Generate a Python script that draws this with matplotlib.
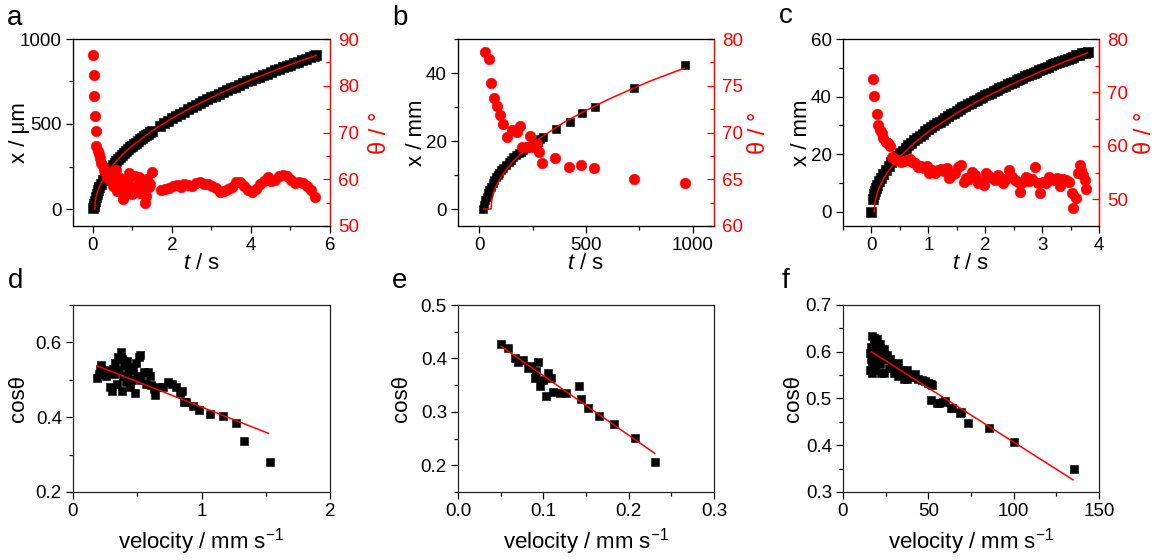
import matplotlib
matplotlib.use("Agg")
import matplotlib.pyplot as plt
from matplotlib.ticker import MultipleLocator, AutoMinorLocator, FormatStrFormatter

plt.rcParams['font.family'] = ['Liberation Sans', 'DejaVu Sans']
plt.rcParams['mathtext.fontset'] = 'custom'
plt.rcParams['mathtext.rm'] = 'Liberation Sans'
plt.rcParams['mathtext.it'] = 'Liberation Sans:italic'

RED = '#ff0000'

# ---------------- panel a: displacement (um) and contact angle vs time ----------------
a_t = [0.00, 0.02, 0.04, 0.06, 0.08, 0.10, 0.13, 0.16, 0.20,
       0.25, 0.30, 0.35, 0.40, 0.45, 0.50, 0.55, 0.60, 0.65, 0.70, 0.75, 0.80, 0.85,
       0.90, 0.95, 1.00, 1.05, 1.10, 1.15, 1.20, 1.25, 1.30, 1.35, 1.40, 1.45, 1.50,
       1.70, 1.80, 1.90, 2.00, 2.10, 2.20, 2.30, 2.40, 2.50, 2.60,
       2.70, 2.80, 2.90, 3.00, 3.10, 3.20, 3.30, 3.40, 3.50, 3.60,
       3.70, 3.80, 3.90, 4.00, 4.10, 4.20, 4.30, 4.40, 4.50, 4.60,
       4.70, 4.80, 4.90, 5.00, 5.10, 5.20, 5.30, 5.40, 5.50, 5.60, 5.65]
a_x = [5, 15, 30, 45, 70, 90, 110, 128, 148,
       171, 191, 209, 226, 242, 256, 270, 283, 296, 308, 320, 331, 342,
       352, 362, 372, 382, 391, 401, 410, 418, 427, 436, 444, 452, 460,
       491, 505, 520, 533, 547, 560, 573, 586, 598, 610,
       622, 633, 645, 656, 667, 678, 689, 699, 709, 720,
       730, 740, 750, 759, 769, 778, 788, 797, 806, 815,
       824, 833, 841, 850, 858, 867, 875, 884, 892, 900, 905]
a_fit_t = [0.05, 0.06, 0.08, 0.10, 0.15, 0.20, 0.30, 0.50, 0.75, 1.00, 1.50,
           2.00, 2.50, 3.00, 3.50, 4.00, 4.50, 5.00, 5.65]
a_fit_x = [0, 38, 66, 85, 121, 148, 191, 256, 320, 372, 460,
           533, 598, 656, 710, 759, 806, 850, 904]
a_th_t = [0.00, 0.02, 0.04, 0.06, 0.07, 0.09, 0.12, 0.15, 0.18, 0.22, 0.25, 0.28,
          0.32, 0.36, 0.40, 0.44, 0.48, 0.52, 0.55, 0.58, 0.62, 0.66, 0.70, 0.73,
          0.76, 0.80, 0.84, 0.88, 0.92, 0.96, 1.00, 1.04, 1.08, 1.12, 1.16, 1.20,
          1.24, 1.28, 1.31, 1.34, 1.38, 1.42, 1.46, 1.49,
          1.72, 1.82, 1.92, 2.02, 2.12, 2.22, 2.32, 2.42, 2.52, 2.62, 2.72, 2.82,
          2.92, 3.02, 3.12, 3.22, 3.32, 3.42, 3.52, 3.62, 3.72, 3.82, 3.92, 4.02,
          4.12, 4.22, 4.32, 4.42, 4.52, 4.62, 4.72, 4.82, 4.92, 5.02, 5.12, 5.22,
          5.32, 5.42, 5.52, 5.62]
a_th = [86.5, 82.2, 77.8, 73.5, 70.3, 67.2, 66.0, 65.4, 64.5, 63.5, 62.8, 62.0,
        61.5, 60.5, 61.3, 59.8, 60.8, 58.5, 59.2, 62.0, 57.5, 60.0, 60.3, 58.0,
        55.8, 59.0, 57.5, 60.2, 61.3, 58.3, 56.8, 57.7, 60.8, 58.5, 60.5, 57.0,
        59.5, 58.0, 55.0, 56.5, 60.0, 58.4, 59.0, 61.6,
        57.6, 57.9, 58.2, 58.6, 58.8, 58.4, 59.0, 58.8, 58.6, 59.2, 59.4, 59.0,
        59.0, 58.6, 58.2, 57.2, 57.4, 58.0, 58.3, 59.4, 59.5, 58.5, 57.8, 57.3,
        58.0, 59.0, 59.6, 60.5, 59.6, 59.8, 60.6, 61.0, 60.6, 59.8, 59.2, 59.4,
        59.3, 58.6, 57.6, 56.2]

# ---------------- panel b: displacement (mm) and contact angle vs time ----------------
b_t = [15, 22, 28, 34, 39, 47, 55, 62, 70, 78, 86, 94, 101, 113, 125, 137, 148,
       160, 172, 184, 195, 207, 219, 235, 250, 262, 274, 286, 297, 360, 423, 481,
       541, 723, 962]
b_x = [0, 1.2, 2.6, 3.6, 4.6, 5.6, 6.6, 7.6, 8.5, 9.3, 10.0, 10.7, 11.4, 12.2, 12.9,
       13.7, 14.4, 15.2, 15.9, 16.4, 16.9, 17.4, 17.9, 18.4, 18.8, 19.3, 19.8, 20.5,
       21.3, 23.4, 25.7, 28.1, 29.9, 35.5, 42.4]
b_fit_t = [20, 55, 57, 60, 70, 80, 100, 130, 160, 200, 250, 300, 400, 500, 600, 700,
           800, 960]
b_fit_x = [0, 0, 1.9, 3.1, 5.3, 6.9, 9.2, 11.9, 14.1, 16.6, 19.2, 21.5, 25.6, 29.0,
           32.1, 34.9, 37.6, 41.4]
b_th_t = [28, 44, 56, 71, 81, 97, 113, 128, 152, 175, 191, 202, 227, 238, 253, 269,
          281, 292, 355, 418, 478, 539, 723, 962]
b_th = [78.6, 77.9, 75.3, 73.7, 72.8, 71.9, 70.9, 69.5, 70.3, 70.1, 70.7, 68.5, 68.5,
        69.6, 68.5, 68.8, 67.9, 66.7, 67.3, 66.3, 66.5, 66.2, 65.0, 64.6]

# ---------------- panel c: displacement (mm) and contact angle vs time ----------------
c_t = [0.00, 0.02, 0.04, 0.06, 0.08, 0.10, 0.13, 0.16, 0.20, 0.25, 0.30, 0.35, 0.40,
       0.45, 0.50, 0.55, 0.60, 0.65, 0.70, 0.75, 0.80, 0.85, 0.90, 0.95, 1.00,
       1.05, 1.10, 1.15, 1.20, 1.25, 1.30, 1.35, 1.40, 1.45, 1.50, 1.55, 1.60,
       1.65, 1.70, 1.75, 1.80, 1.85, 1.90, 1.95, 2.00, 2.05, 2.10, 2.15, 2.20,
       2.25, 2.30, 2.35, 2.40, 2.45, 2.50, 2.55, 2.60, 2.65, 2.70, 2.75, 2.80,
       2.85, 2.90, 2.95, 3.00, 3.05, 3.10, 3.15, 3.20, 3.25, 3.30, 3.35, 3.40,
       3.45, 3.50, 3.55, 3.60, 3.65, 3.70, 3.75, 3.80]
c_x = [0, 4.5, 6.0, 7.2, 8.3, 9.3, 10.6, 11.8, 13.0, 14.4, 15.9, 17.1, 18.2,
       19.3, 20.3, 21.2, 22.2, 23.1, 24.0, 24.8, 25.6, 26.4, 27.1, 27.9, 28.6,
       29.3, 30.0, 30.7, 31.3, 32.0, 32.6, 33.2, 33.8, 34.4, 35.0, 35.6, 36.2,
       36.7, 37.3, 37.8, 38.4, 38.9, 39.4, 39.9, 40.4, 40.9, 41.4, 41.9, 42.4,
       42.9, 43.4, 43.8, 44.3, 44.8, 45.2, 45.7, 46.1, 46.6, 47.0, 47.4, 47.9,
       48.3, 48.7, 49.1, 49.5, 50.0, 50.4, 50.8, 51.2, 51.6, 52.0, 52.3, 52.7,
       53.1, 53.5, 53.9, 54.3, 54.6, 55.0, 55.3, 55.5]
c_fit_t = [0.05, 0.06, 0.08, 0.10, 0.15, 0.20, 0.30, 0.50, 0.75, 1.00, 1.50, 2.00,
           2.50, 3.00, 3.50, 3.80]
c_fit_x = [0, 2.9, 4.9, 6.4, 9.0, 11.0, 14.2, 19.1, 23.8, 27.8, 34.3, 39.8, 44.6,
           48.9, 52.9, 55.2]
c_th_t = [0.02, 0.05, 0.09, 0.12, 0.15, 0.18, 0.21, 0.25, 0.29, 0.33, 0.37, 0.42,
          0.47, 0.52, 0.57, 0.62, 0.67, 0.72, 0.77, 0.82, 0.87, 0.92, 0.97, 1.02,
          1.07, 1.12, 1.17, 1.22, 1.27, 1.32, 1.37, 1.42, 1.47, 1.52, 1.57, 1.62,
          1.67, 1.72, 1.77, 1.82, 1.87, 1.92, 1.97, 2.02, 2.07, 2.12, 2.17, 2.22,
          2.27, 2.32, 2.37, 2.42, 2.47, 2.52, 2.57, 2.62, 2.67, 2.72, 2.77, 2.82,
          2.87, 2.92, 2.97, 3.02, 3.07, 3.12, 3.17, 3.22, 3.27, 3.32, 3.37, 3.42,
          3.47, 3.52, 3.55, 3.59, 3.63, 3.66, 3.69, 3.72, 3.75, 3.78]
c_th = [72.6, 69.3, 66.0, 63.9, 63.0, 62.4, 61.4, 60.8, 60.5, 60.0, 58.0, 57.6,
        57.4, 57.0, 57.2, 57.4, 57.5, 57.0, 56.7, 56.1, 56.3, 55.8, 56.2, 54.9,
        55.4, 55.0, 55.5, 55.6, 55.3, 55.8, 53.9, 54.5, 55.0, 56.1, 56.4, 53.3,
        54.0, 53.8, 55.2, 54.6, 53.0, 53.5, 52.7, 54.9, 54.3, 53.9, 53.6, 54.5,
        53.8, 53.0, 53.8, 55.5, 54.2, 53.6, 53.3, 51.4, 53.3, 54.2, 53.5, 53.8,
        56.1, 53.0, 51.1, 53.3, 53.0, 54.2, 53.8, 53.6, 54.0, 52.4, 53.8, 53.6,
        53.2, 51.1, 48.3, 50.2, 54.9, 56.4, 55.5, 54.5, 53.6, 51.9]

# ---------------- panel d: cos(theta) vs velocity ----------------
d_v = [0.19, 0.20, 0.21, 0.22, 0.24, 0.26, 0.28, 0.29, 0.30, 0.31, 0.32, 0.33, 0.34,
       0.35, 0.36, 0.37, 0.38, 0.38, 0.39, 0.40, 0.41, 0.42, 0.43, 0.44, 0.45, 0.46,
       0.47, 0.48, 0.49, 0.50, 0.51, 0.52, 0.53, 0.55, 0.57, 0.58, 0.60, 0.61, 0.63,
       0.64, 0.66, 0.70, 0.74, 0.77, 0.80, 0.83, 0.85, 0.86, 0.88, 0.93, 0.98, 1.07,
       1.17, 1.27, 1.33, 1.53]
d_cos = [0.505, 0.515, 0.530, 0.540, 0.520, 0.510, 0.525, 0.480, 0.470, 0.530, 0.515,
         0.545, 0.490, 0.560, 0.525, 0.575, 0.555, 0.470, 0.510, 0.540, 0.495, 0.550,
         0.520, 0.480, 0.535, 0.500, 0.525, 0.465, 0.545, 0.510, 0.560, 0.565, 0.500,
         0.520, 0.490, 0.520, 0.510, 0.485, 0.475, 0.460, 0.480, 0.480, 0.495, 0.490,
         0.480, 0.465, 0.470, 0.440, 0.440, 0.430, 0.420, 0.408, 0.403, 0.385, 0.336,
         0.280]
d_fit_v = [0.19, 1.52]
d_fit_cos = [0.537, 0.357]

# ---------------- panel e: cos(theta) vs velocity ----------------
e_v = [0.0508, 0.0586, 0.0664, 0.0703, 0.0762, 0.0820, 0.0860, 0.0898, 0.0918,
       0.0938, 0.0957, 0.0996, 0.1035, 0.1055, 0.1090, 0.1110, 0.1190, 0.1270,
       0.1418, 0.1445, 0.1523, 0.1652, 0.1824, 0.2070, 0.2305]
e_cos = [0.427, 0.419, 0.401, 0.394, 0.397, 0.382, 0.385, 0.363, 0.376, 0.394, 0.348,
         0.360, 0.329, 0.373, 0.363, 0.338, 0.335, 0.335, 0.348, 0.324, 0.308, 0.293,
         0.278, 0.252, 0.206]
e_fit_v = [0.0508, 0.2305]
e_fit_cos = [0.4224, 0.2224]

# ---------------- panel f: cos(theta) vs velocity ----------------
f_v = [15.9, 15.9, 16.2, 16.5, 16.9, 16.9, 16.9, 17.2, 17.5, 17.9, 18.3, 18.8, 18.8,
       18.9, 19.3, 19.9, 20.5, 21.0, 21.8, 21.8, 22.3, 22.8, 23.8, 23.8, 24.7, 25.7,
       26.7, 27.7, 28.6, 29.6, 29.6, 30.6, 32.5, 32.5, 33.5, 35.5, 35.5, 37.4, 37.4,
       39.5, 41.7, 42.3, 44.2, 46.0, 48.1, 50.0, 51.6, 52.0, 51.6, 54.9, 56.0, 58.4,
       59.9, 63.1, 63.8, 68.7, 69.2, 73.4, 85.3, 100.1, 135.4]
f_cos = [0.598, 0.562, 0.585, 0.610, 0.634, 0.602, 0.573, 0.555, 0.590, 0.630, 0.615,
         0.619, 0.562, 0.591, 0.575, 0.627, 0.600, 0.583, 0.616, 0.573, 0.555, 0.598,
         0.605, 0.555, 0.584, 0.594, 0.566, 0.584, 0.577, 0.573, 0.555, 0.562, 0.577,
         0.548, 0.562, 0.552, 0.541, 0.562, 0.541, 0.545, 0.550, 0.552, 0.541, 0.540,
         0.537, 0.533, 0.530, 0.528, 0.497, 0.490, 0.491, 0.493, 0.495, 0.480, 0.480,
         0.469, 0.471, 0.447, 0.436, 0.406, 0.350]
f_fit_v = [16.6, 134.8]
f_fit_cos = [0.600, 0.326]

W, H = 1162, 560
fig = plt.figure(figsize=(W / 100, H / 100), dpi=100)


def rect(x0, y0, x1, y1):
    return [x0 / W, 1 - y1 / H, (x1 - x0) / W, (y1 - y0) / H]


TICK_FS = 13.5
LABEL_FS = 16
CIR = dict(marker='o', ms=7.6, mfc=RED, mec=RED, mew=0.4, ls='none')


def squares(size):
    return dict(marker='s', ms=size, mfc='black', mec='black', mew=0.4, ls='none')


def style_main(ax, twin=False):
    for s in ax.spines.values():
        s.set_linewidth(0.9)
        s.set_color('#222222')
    ax.tick_params(which='both', direction='out', top=False, right=False,
                   labelsize=TICK_FS, width=0.9, pad=3)
    ax.tick_params(which='major', length=5)
    ax.tick_params(which='minor', length=3)
    if twin:
        ax.spines['right'].set_color(RED)


def style_twin(ax2):
    ax2.spines['right'].set_color(RED)
    ax2.spines['right'].set_linewidth(0.9)
    ax2.tick_params(axis='y', which='both', direction='in', colors=RED,
                    labelsize=TICK_FS, width=0.9, pad=6)
    ax2.tick_params(axis='y', which='major', length=5)
    ax2.tick_params(axis='y', which='minor', length=3)


def top_panel(box, t, x, fit_t, fit_x, th_t, th, xlim, xmaj, ylim, ymaj, ylab,
              rlim, rmaj, letter, letter_xy, sq, ylab_x, rlab_x):
    ax = fig.add_axes(rect(*box))
    ax.plot(t, x, **squares(sq), zorder=2)
    ax.plot(fit_t, fit_x, color=RED, lw=1.1, zorder=3)
    ax.set_xlim(*xlim)
    ax.set_ylim(*ylim)
    ax.xaxis.set_major_locator(MultipleLocator(xmaj))
    ax.xaxis.set_minor_locator(AutoMinorLocator(2))
    ax.yaxis.set_major_locator(MultipleLocator(ymaj))
    ax.yaxis.set_minor_locator(AutoMinorLocator(2))
    style_main(ax, twin=True)
    ax.set_xlabel(r'$\mathit{t}$ / s', fontsize=LABEL_FS)
    ax.xaxis.set_label_coords(0.5, -0.142)
    ax.set_ylabel(ylab, fontsize=LABEL_FS)
    ax.yaxis.set_label_coords(ylab_x, 0.5)

    ax2 = ax.twinx()
    ax2.plot(th_t, th, **CIR, zorder=4)
    ax2.set_ylim(*rlim)
    ax2.yaxis.set_major_locator(MultipleLocator(rmaj))
    ax2.yaxis.set_minor_locator(AutoMinorLocator(2))
    style_twin(ax2)
    ax2.set_ylabel('θ / °', color=RED, fontsize=LABEL_FS + 1)
    ax2.yaxis.set_label_coords(rlab_x, 0.5)
    fig.text(letter_xy[0] / W, 1 - letter_xy[1] / H, letter, fontsize=20,
             va='baseline', ha='left')
    return ax, ax2


def bottom_panel(box, v, c, fv, fc, xlim, xmaj, ylim, ymaj, fmt_x, fmt_y,
                 letter, letter_xy, ylab_x):
    ax = fig.add_axes(rect(*box))
    ax.plot(v, c, **squares(6.4), zorder=2)
    ax.plot(fv, fc, color=RED, lw=1.1, zorder=3)
    ax.set_xlim(*xlim)
    ax.set_ylim(*ylim)
    ax.xaxis.set_major_locator(MultipleLocator(xmaj))
    ax.xaxis.set_minor_locator(AutoMinorLocator(2))
    ax.yaxis.set_major_locator(MultipleLocator(ymaj))
    ax.yaxis.set_minor_locator(AutoMinorLocator(2))
    if fmt_x:
        ax.xaxis.set_major_formatter(FormatStrFormatter(fmt_x))
    if fmt_y:
        ax.yaxis.set_major_formatter(FormatStrFormatter(fmt_y))
    style_main(ax)
    ax.set_xlabel(r'velocity / mm s$^{\mathregular{-1}}$', fontsize=LABEL_FS)
    ax.xaxis.set_label_coords(0.5, -0.185)
    ax.set_ylabel('cosθ', fontsize=LABEL_FS)
    ax.yaxis.set_label_coords(ylab_x, 0.5)
    fig.text(letter_xy[0] / W, 1 - letter_xy[1] / H, letter, fontsize=20,
             va='baseline', ha='left')
    return ax


top_panel((73, 39, 330, 226), a_t, a_x, a_fit_t, a_fit_x, a_th_t, a_th,
          (-0.5, 6), 2, (-100, 1000), 500, 'x / μm', (50, 90), 10, 'a', (7, 25),
          7.4, -0.168, 1.152)
top_panel((458, 39, 714, 226), b_t, b_x, b_fit_t, b_fit_x, b_th_t, b_th,
          (-100, 1100), 500, (-5, 50), 20, 'x / mm', (60, 80), 5, 'b', (392, 25),
          6.4, -0.122, 1.133)
top_panel((843, 39, 1099, 226), c_t, c_x, c_fit_t, c_fit_x, c_th_t, c_th,
          (-0.5, 4), 1, (-5, 60), 20, 'x / mm', (45, 80), 10, 'c', (779, 23),
          7.4, -0.122, 1.137)

bottom_panel((73, 305, 330, 492), d_v, d_cos, d_fit_v, d_fit_cos,
             (0, 2), 1, (0.2, 0.7), 0.2, None, '%.1f', 'd', (8, 288), -0.170)
bottom_panel((458, 305, 714, 492), e_v, e_cos, e_fit_v, e_fit_cos,
             (0, 0.3), 0.1, (0.15, 0.5), 0.1, '%.1f', '%.1f', 'e', (392, 288), -0.180)
bottom_panel((843, 305, 1099, 492), f_v, f_cos, f_fit_v, f_fit_cos,
             (0, 150), 50, (0.3, 0.7), 0.1, None, '%.1f', 'f', (782, 288), -0.152)

fig.savefig('out.png', dpi=100)
